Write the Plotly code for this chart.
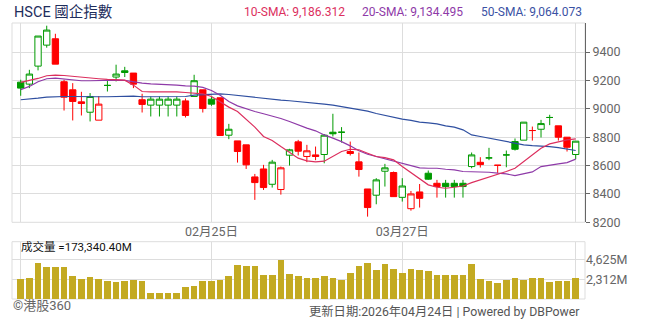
import plotly.graph_objects as go

# ---------------- data ----------------
opens = [9188, 9174, 9301, 9449, 9494, 9191, 9134, 9049, 8976, 8920,
         9165, 9224, 9268, 9252, 9064, 9026, 9026, 9026, 9026, 9056,
         9087, 9134, 9068, 9078, 8814, 8774, 8746, 8520, 8576, 8468,
         8431, 8673, 8767, 8664, 8675, 8678, 8835, 8835, 8699, 8626,
         8435, 8391, 8560, 8551, 8376, 8296, 8414, 8546, 8475, 8475,
         8475, 8475, 8593, 8623, 8654, 8602, 8675, 8769, 8779, 8847,
         8856, 8939, 8880, 8800, 8678]
highs = [9205, 9275, 9513, 9586, 9529, 9205, 9181, 9120, 9111, 9089,
         9205, 9311, 9296, 9252, 9106, 9087, 9087, 9087, 9087, 9073,
         9240, 9134, 9092, 9078, 8894, 8774, 8746, 8541, 8605, 8640,
         8593, 8718, 8781, 8746, 8734, 8822, 8965, 8871, 8769, 8692,
         8435, 8511, 8612, 8558, 8511, 8421, 8470, 8565, 8499, 8499,
         8499, 8499, 8692, 8659, 8725, 8602, 8706, 8791, 8906, 8875,
         8922, 8958, 8880, 8800, 8772]
lows = [9092, 9146, 9271, 9431, 9315, 8988, 8918, 8953, 8911, 8920,
        9122, 9193, 9224, 9146, 8974, 8946, 8946, 8946, 8946, 8939,
        9087, 8974, 9021, 8812, 8786, 8621, 8576, 8358, 8428, 8445,
        8395, 8600, 8671, 8624, 8638, 8616, 8805, 8762, 8671, 8522,
        8240, 8327, 8452, 8381, 8346, 8282, 8304, 8499, 8374, 8374,
        8374, 8374, 8581, 8586, 8638, 8548, 8588, 8706, 8779, 8776,
        8798, 8885, 8776, 8699, 8645]
closes = [9146, 9245, 9513, 9555, 9315, 9082, 9052, 9038, 9087, 9033,
          9165, 9245, 9256, 9174, 9031, 9068, 9068, 9068, 9068, 8953,
          9198, 9002, 9033, 8812, 8856, 8699, 8605, 8480, 8445, 8624,
          8584, 8711, 8701, 8704, 8664, 8814, 8824, 8835, 8685, 8572,
          8304, 8499, 8584, 8381, 8456, 8400, 8369, 8504, 8452, 8452,
          8452, 8452, 8675, 8607, 8654, 8602, 8675, 8715, 8906, 8847,
          8896, 8939, 8800, 8729, 8772]
# candle colour: "g" = up vs previous close (green), "r" = down (red)
candle_color = ["g", "g", "g", "g", "r", "r", "r", "r", "g", "r",
                "g", "g", "g", "r", "r", "g", "g", "g", "g", "r",
                "g", "r", "g", "r", "g", "r", "r", "r", "r", "g",
                "r", "g", "r", "r", "r", "g", "g", "g", "r", "r",
                "r", "g", "g", "r", "g", "r", "r", "g", "r", "g",
                "g", "g", "g", "r", "g", "r", "g", "g", "g", "r",
                "g", "g", "r", "r", "g"]
sma10 = [9186.312, 9198, 9214, 9233, 9238, 9235, 9228, 9224, 9219, 9212,
         9207, 9202, 9202, 9167, 9122, 9120, 9120, 9122, 9120, 9115,
         9111, 9106, 9087, 9049, 9012, 8981, 8927, 8871, 8805, 8777,
         8734, 8692, 8652, 8633, 8626, 8631, 8664, 8699, 8715, 8711,
         8687, 8664, 8656, 8640, 8593, 8551, 8504, 8464, 8447, 8440,
         8447, 8456, 8480, 8499, 8518, 8536, 8558, 8581, 8628, 8680,
         8722, 8753, 8767, 8781, 8788]
sma20 = [9134.495, 9158, 9191, 9212, 9216, 9209, 9205, 9198, 9198, 9200,
         9202, 9202, 9200, 9188, 9181, 9176, 9174, 9172, 9167, 9162,
         9160, 9151, 9129, 9095, 9052, 9021, 9000, 8981, 8965, 8951,
         8932, 8911, 8887, 8864, 8845, 8816, 8793, 8769, 8739, 8704,
         8680, 8664, 8645, 8628, 8612, 8598, 8584, 8581, 8581, 8574,
         8569, 8558, 8558, 8558, 8553, 8546, 8541, 8529, 8541, 8555,
         8593, 8605, 8612, 8621, 8645]
sma50 = [9064.073, 9068, 9075, 9082, 9087, 9087, 9087, 9085, 9085, 9085,
         9085, 9087, 9087, 9089, 9085, 9085, 9085, 9085, 9085, 9087,
         9096, 9101, 9106, 9106, 9101, 9094, 9085, 9078, 9073, 9068,
         9061, 9057, 9052, 9047, 9040, 9033, 9026, 9016, 9005, 8993,
         8984, 8967, 8953, 8939, 8927, 8918, 8906, 8901, 8894, 8880,
         8871, 8852, 8816, 8805, 8793, 8781, 8769, 8753, 8746, 8741,
         8739, 8734, 8727, 8718, 8706]
volume_m = [2372, 2530, 4270, 3795, 3795, 3795, 2728, 2372, 2610, 2372,
            2135, 2016, 2135, 2234, 2117, 706, 706, 706, 706, 1411,
            1529, 2117, 2117, 2234, 2705, 3998, 3881, 3881, 2822, 2822,
            4586, 2940, 2705, 2470, 2470, 2705, 2470, 2234, 3058, 3881,
            4234, 3410, 4116, 3528, 3058, 3528, 3410, 3293, 2822, 2822,
            2822, 2822, 4116, 2352, 2117, 1882, 2234, 2464, 2310, 2464,
            2541, 2079, 2195, 2195, 2464]
date_tick_pos = [0, 22, 44, 64]
date_tick_text = ["", "02月25日", "03月27日", ""]
price_ticks = [8200, 8400, 8600, 8800, 9000, 9200, 9400]
vol_ticks = [2312.5, 4625]
vol_tick_text = ["2,312M", "4,625M"]

idx = list(range(len(closes)))

# ---------------- geometry helpers ----------------
W, H = 654, 325
ML, MR, MT, MB = 12, 69, 23, 26
PW, PH = W - ML - MR, H - MT - MB


def px_x(px):
    return (px - ML) / PW


def px_y(py):
    return (H - MB - py) / PH


GREEN = "#009a00"
RED = "#ff0000"
GRID = "#dddddd"

fig = go.Figure()

for col, colour in (("g", GREEN), ("r", RED)):
    sel = [i for i in idx if candle_color[i] == col]
    fig.add_trace(go.Candlestick(
        x=sel,
        open=[opens[i] for i in sel],
        high=[highs[i] for i in sel],
        low=[lows[i] for i in sel],
        close=[closes[i] for i in sel],
        increasing=dict(line=dict(color=colour, width=1), fillcolor="white"),
        decreasing=dict(line=dict(color=colour, width=1), fillcolor=colour),
        whiskerwidth=0,
        xaxis="x", yaxis="y", showlegend=False, hoverinfo="skip",
    ))

for vals, colour in ((sma50, "#2f4fa0"), (sma20, "#8e3aa8"), (sma10, "#dc2f5e")):
    fig.add_trace(go.Scatter(x=idx, y=vals, mode="lines",
                             line=dict(color=colour, width=1.2),
                             xaxis="x", yaxis="y", showlegend=False,
                             hoverinfo="skip"))

fig.add_trace(go.Bar(x=idx, y=volume_m, width=0.77, marker=dict(color="#c3aa22", line=dict(width=0)),
                     xaxis="x2", yaxis="y2", showlegend=False, hoverinfo="skip"))

main_bottom = px_y(222.3)
vol_top = px_y(241.7)
xr = [(ML - 20.7) / 8.672, (ML + PW - 20.7) / 8.672]

FONT = "Roboto, 'Noto Sans CJK TC', sans-serif"

fig.update_layout(
    width=W, height=H,
    margin=dict(l=ML, r=MR, t=MT, b=MB),
    paper_bgcolor="white", plot_bgcolor="white",
    font=dict(family=FONT, size=12, color="#666666"),
    boxgap=0.27, boxgroupgap=0,
    bargap=0,
    xaxis=dict(domain=[0, 1], anchor="y", range=xr, tickmode="array",
               tickvals=date_tick_pos, ticktext=date_tick_text,
               showgrid=True, gridcolor=GRID, gridwidth=1, zeroline=False,
               showline=False, ticks="", rangeslider=dict(visible=False),
               tickfont=dict(size=12.5, color="#666666")),
    xaxis2=dict(domain=[0, 1], anchor="y2", matches="x", tickmode="array",
                tickvals=date_tick_pos, showticklabels=False,
                showgrid=True, gridcolor=GRID, zeroline=False, showline=False,
                ticks=""),
    yaxis=dict(domain=[main_bottom, 1], side="right", range=[8200, 9605],
               tickmode="array", tickvals=price_ticks,
               showgrid=True, gridcolor=GRID, zeroline=False,
               showline=True, linecolor="#666666", linewidth=1,
               ticks="outside", ticklen=4, tickcolor="#666666",
               tickfont=dict(size=12.5, color="#666666")),
    yaxis2=dict(domain=[0, vol_top], side="right", range=[0, 6740],
                tickmode="array", tickvals=vol_ticks, ticktext=vol_tick_text,
                showgrid=True, gridcolor=GRID, zeroline=False, showline=False,
                ticks="", tickfont=dict(size=12.5, color="#666666")),
    shapes=[
        dict(type="rect", xref="paper", yref="paper", x0=0, x1=1,
             y0=main_bottom, y1=1, line=dict(color=GRID, width=1), layer="below"),
        dict(type="rect", xref="paper", yref="paper", x0=0, x1=1,
             y0=0, y1=vol_top, line=dict(color=GRID, width=1), layer="below"),
    ],
)

ann = []
ann.append(dict(text="HSCE 國企指數", x=px_x(12), y=px_y(12), xanchor="left",
                yanchor="middle", font=dict(size=14.5, color="#1e2d5c")))
for txt, xpos, colour in (("10-SMA: 9,186.312", 241.5, "#dc2f5e"),
                          ("20-SMA: 9,134.495", 360, "#8e3aa8"),
                          ("50-SMA: 9,064.073", 479, "#3a52a4")):
    ann.append(dict(text=txt, x=px_x(xpos), y=px_y(12), xanchor="left",
                    yanchor="middle", font=dict(size=12, color=colour)))
ann.append(dict(text="成交量 =173,340.40M", x=px_x(19), y=px_y(247), xanchor="left",
                yanchor="middle", font=dict(size=11.5, color="#111111")))
ann.append(dict(text="©港股360", x=px_x(11), y=px_y(306), xanchor="left",
                yanchor="middle", font=dict(size=13, color="#666666")))
ann.append(dict(text="更新日期:2026年04月24日 | Powered by DBPower", x=px_x(582),
                y=px_y(311), xanchor="right", yanchor="middle",
                font=dict(size=12.3, color="#555555")))
for a in ann:
    a.update(xref="paper", yref="paper", showarrow=False)
fig.update_layout(annotations=ann)

fig.write_html("out.html")
